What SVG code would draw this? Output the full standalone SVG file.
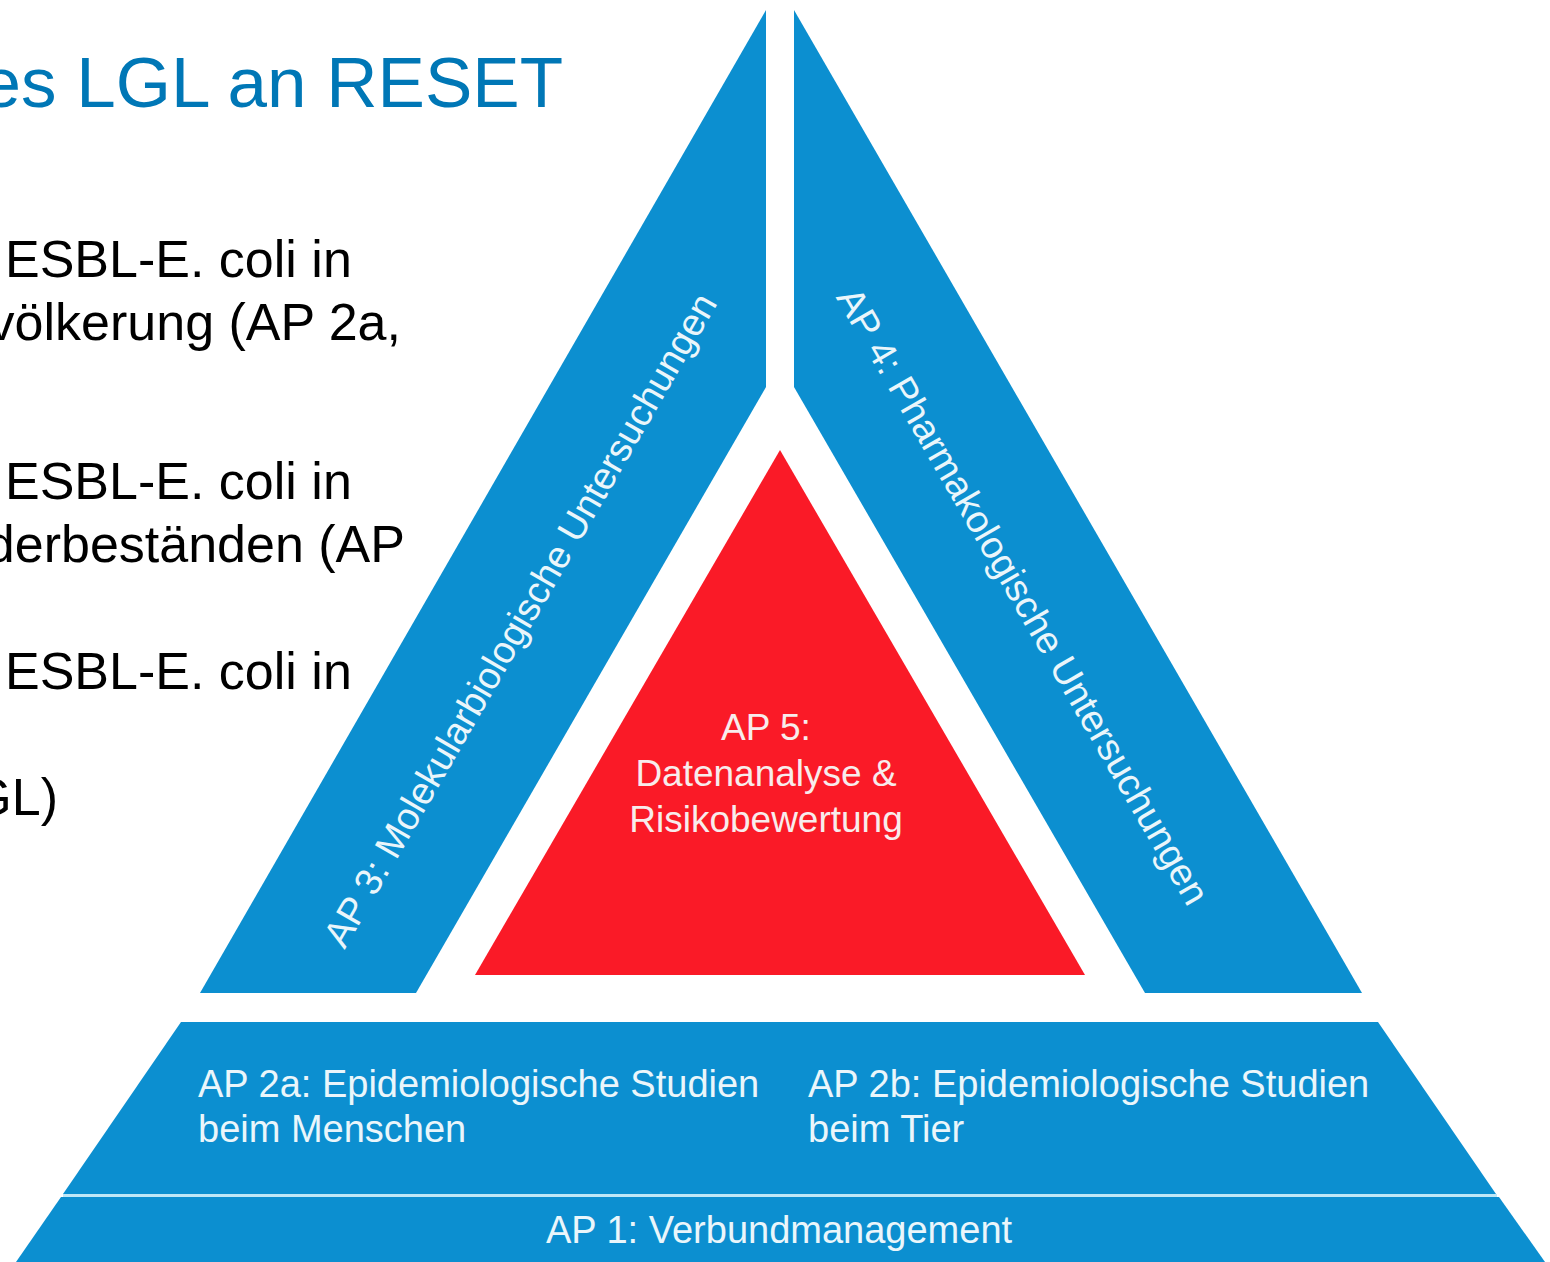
<svg xmlns="http://www.w3.org/2000/svg" width="1550" height="1262" viewBox="0 0 1550 1262">
  <style>
    .blue { fill: #0C8FD0; }
    .red { fill: #FA1A27; }
    .title { font-family: "Liberation Sans", Arial, sans-serif; font-size: 71px; fill: #0077B6; }
    .body { font-family: "Liberation Sans", Arial, sans-serif; font-size: 52px; fill: #000000; }
    .lbl { font-family: "Liberation Sans", Arial, sans-serif; font-size: 38px; fill: #EAF6FB; }
    .lblr { font-family: "Liberation Sans", Arial, sans-serif; font-size: 37px; fill: #F8ECEC; text-anchor: middle; }
  </style>
  <rect x="0" y="0" width="1550" height="1262" fill="#FFFFFF"/>

  <g id="title">
    <text class="title" x="563" y="107" text-anchor="end">es LGL an RESET</text>
  </g>

  <g id="body-text">
    <text class="body" x="5" y="277">ESBL-E. coli in</text>
    <text class="body" x="401" y="340" text-anchor="end">völkerung (AP 2a,</text>
    <text class="body" x="5" y="499">ESBL-E. coli in</text>
    <text class="body" x="405" y="562" text-anchor="end">derbeständen (AP</text>
    <text class="body" x="5" y="689">ESBL-E. coli in</text>
    <text class="body" x="58" y="815" text-anchor="end">GL)</text>
  </g>

  <g id="connectors"></g>

  <g id="ap3">
    <polygon class="blue" points="766,10 766,387 416,993 200,993"/>
    <text class="lbl" text-anchor="middle" transform="translate(520,620) rotate(-60)" x="0" y="13">AP 3: Molekularbiologische Untersuchungen</text>
  </g>

  <g id="ap4">
    <polygon class="blue" points="794,10 1362,993 1145,993 794,387"/>
    <text class="lbl" text-anchor="middle" transform="translate(1023,596) rotate(60)" x="0" y="13">AP 4: Pharmakologische Untersuchungen</text>
  </g>

  <g id="ap5">
    <polygon class="red" points="780,450 1085,975 475,975"/>
    <text class="lblr" x="766" y="740">AP 5:</text>
    <text class="lblr" x="766" y="786">Datenanalyse &amp;</text>
    <text class="lblr" x="766" y="832">Risikobewertung</text>
  </g>

  <g id="ap2">
    <polygon class="blue" points="181,1022 1378,1022 1496,1194 63,1194"/>
    <text class="lbl" x="198" y="1097">AP 2a: Epidemiologische Studien</text>
    <text class="lbl" x="198" y="1142">beim Menschen</text>
    <text class="lbl" x="808" y="1097">AP 2b: Epidemiologische Studien</text>
    <text class="lbl" x="808" y="1142">beim Tier</text>
  </g>

  <g id="ap1">
    <line x1="63" y1="1195.5" x2="1497" y2="1195.5" stroke="#BFE7F7" stroke-width="3"/>
    <polygon class="blue" points="61,1197 1499,1197 1545,1262 16,1262"/>
    <text class="lbl" x="779" y="1243" text-anchor="middle">AP 1: Verbundmanagement</text>
  </g>
</svg>
